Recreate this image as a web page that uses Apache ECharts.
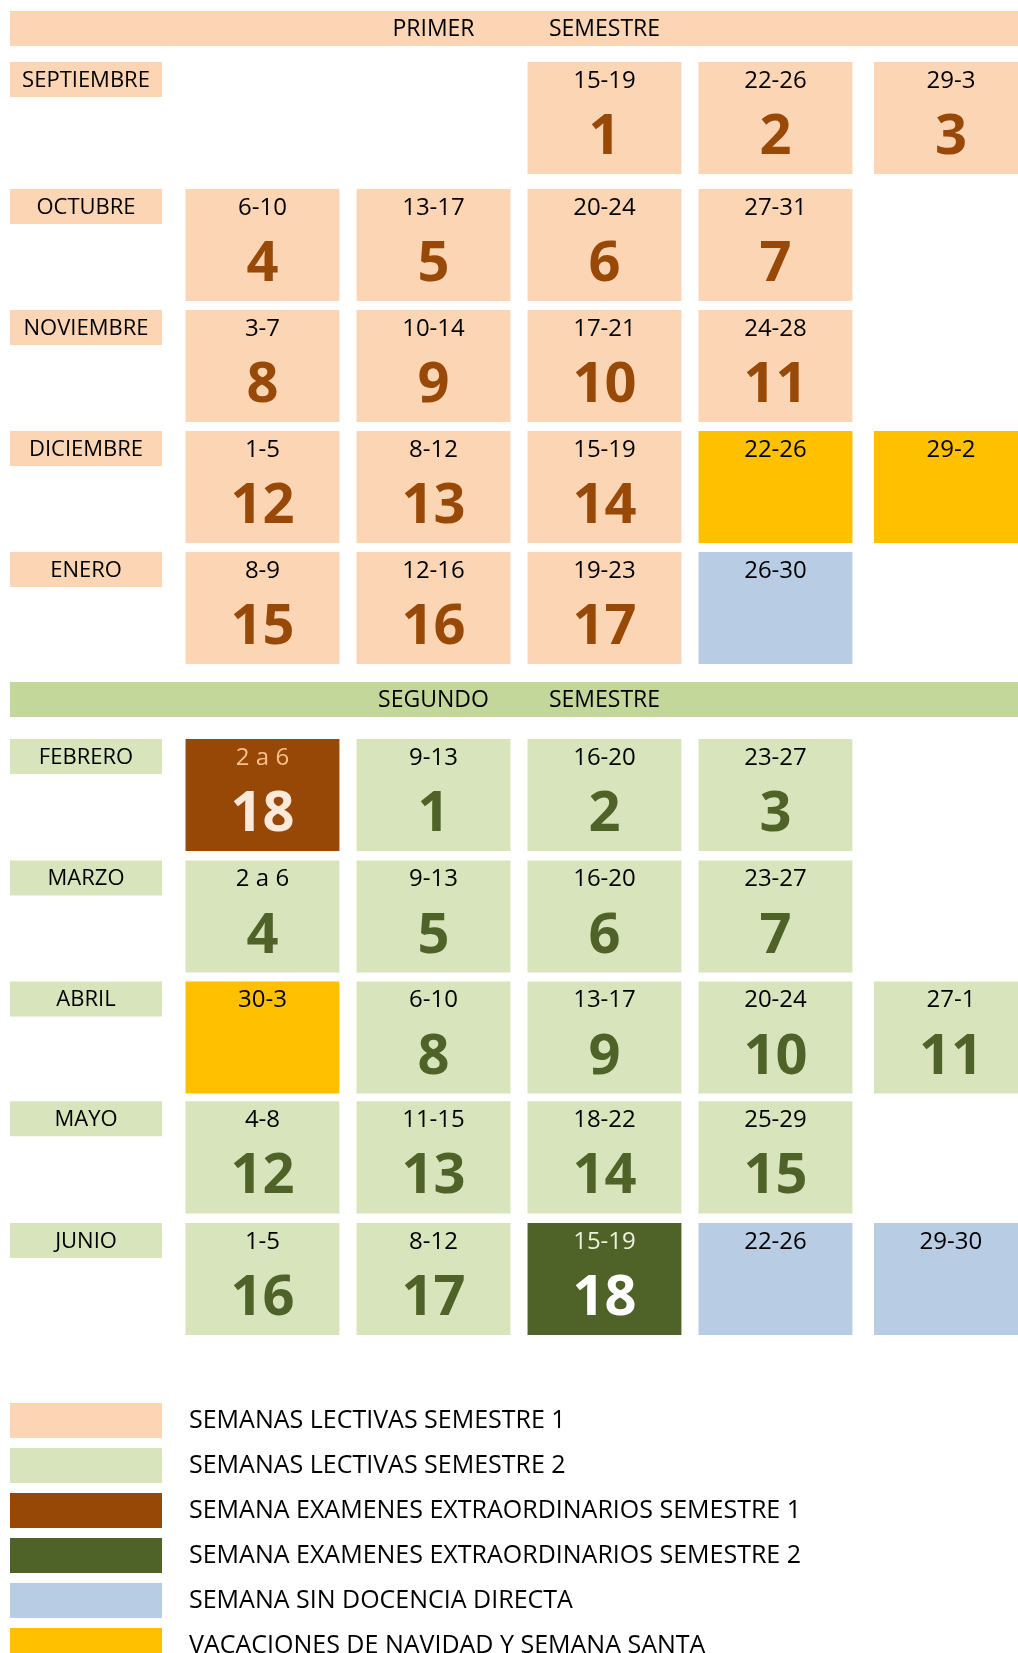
<!DOCTYPE html>
<html>
<head>
<meta charset="utf-8">
<script src="https://cdn.jsdelivr.net/npm/echarts@6/dist/echarts.min.js"></script>
<style>
  html, body { margin: 0; padding: 0; background: #ffffff; }
  #chart { width: 1018px; height: 1653px; }
</style>
</head>
<body>
<div id="chart"></div>
<script>
// ---------------- DATA ----------------
const months = ['SEPTIEMBRE', 'OCTUBRE', 'NOVIEMBRE', 'DICIEMBRE', 'ENERO',
                'FEBRERO', 'MARZO', 'ABRIL', 'MAYO', 'JUNIO'];
const monthSemester = [1, 1, 1, 1, 1, 2, 2, 2, 2, 2];

const semesterTitles = [['PRIMER', 'SEMESTRE'], ['SEGUNDO', 'SEMESTRE']];

// week date ranges per month, columns 1..5 ('' = empty slot)
const weekDates = [
  ['', '', '15-19', '22-26', '29-3'],
  ['6-10', '13-17', '20-24', '27-31', ''],
  ['3-7', '10-14', '17-21', '24-28', ''],
  ['1-5', '8-12', '15-19', '22-26', '29-2'],
  ['8-9', '12-16', '19-23', '26-30', ''],
  ['2 a 6', '9-13', '16-20', '23-27', ''],
  ['2 a 6', '9-13', '16-20', '23-27', ''],
  ['30-3', '6-10', '13-17', '20-24', '27-1'],
  ['4-8', '11-15', '18-22', '25-29', ''],
  ['1-5', '8-12', '15-19', '22-26', '29-30']
];

// week numbers (null = no number shown)
const weekNumbers = [
  [null, null, 1, 2, 3],
  [4, 5, 6, 7, null],
  [8, 9, 10, 11, null],
  [12, 13, 14, null, null],
  [15, 16, 17, null, null],
  [18, 1, 2, 3, null],
  [4, 5, 6, 7, null],
  [null, 8, 9, 10, 11],
  [12, 13, 14, 15, null],
  [16, 17, 18, null, null]
];

// week type: L1 lectiva S1, L2 lectiva S2, X1 examenes extra S1, X2 examenes extra S2,
// SD sin docencia directa, V vacaciones
const weekTypes = [
  [null, null, 'L1', 'L1', 'L1'],
  ['L1', 'L1', 'L1', 'L1', null],
  ['L1', 'L1', 'L1', 'L1', null],
  ['L1', 'L1', 'L1', 'V', 'V'],
  ['L1', 'L1', 'L1', 'SD', null],
  ['X1', 'L2', 'L2', 'L2', null],
  ['L2', 'L2', 'L2', 'L2', null],
  ['V', 'L2', 'L2', 'L2', 'L2'],
  ['L2', 'L2', 'L2', 'L2', null],
  ['L2', 'L2', 'X2', 'SD', 'SD']
];

const typeKeys = ['L1', 'L2', 'X1', 'X2', 'SD', 'V'];
const legendLabels = [
  'SEMANAS LECTIVAS SEMESTRE 1',
  'SEMANAS LECTIVAS SEMESTRE 2',
  'SEMANA EXAMENES EXTRAORDINARIOS SEMESTRE 1',
  'SEMANA EXAMENES EXTRAORDINARIOS SEMESTRE 2',
  'SEMANA SIN DOCENCIA DIRECTA',
  'VACACIONES DE NAVIDAD Y SEMANA SANTA'
];

// ---------------- STYLE / LAYOUT ----------------
const FONT = '"Open Sans", "Noto Sans", sans-serif';
const TYPE_STYLE = {
  L1: { fill: '#FCD5B4', date: '#000000', num: '#984807' },
  L2: { fill: '#D8E4BC', date: '#000000', num: '#4F6228' },
  X1: { fill: '#974706', date: '#FAC090', num: '#FDE9D9' },
  X2: { fill: '#4F6228', date: '#EBF1DE', num: '#FFFFFF' },
  SD: { fill: '#B8CCE4', date: '#000000', num: '#000000' },
  V:  { fill: '#FFC000', date: '#000000', num: '#000000' }
};
const SEM_FILL = { 1: '#FCD5B4', 2: '#D8E4BC' };
const SEM_HEADER_FILL = { 1: '#FCD5B4', 2: '#C4D79B' };

// axis-unit layout (x unit = one week column, y unit = one month row)
const COL_SLOT = [-0.032, 1, 2, 3, 4, 5.026];
const ROW_SLOT = [-0.05, 1, 2, 3, 4, 5.545, 6.55, 7.55, 8.54, 9.545];
const HEADER_SLOT = { 1: -0.471, 2: 5.074 };
const CELL_W = 0.9, CELL_H = 0.926, LABEL_W = 0.889, LABEL_H = 0.289, HEADER_H = 0.289;
const DATE_DY = 19, NUM_DY = 76;

function weekRender(typeKey) {
  const st = TYPE_STYLE[typeKey];
  return function (params, api) {
    const col = api.value(0), row = api.value(1);
    const tl = api.coord([COL_SLOT[col] - CELL_W / 2, ROW_SLOT[row]]);
    const sz = api.size([CELL_W, CELL_H]);
    const w = sz[0], h = sz[1];
    const date = weekDates[row][col - 1];
    const num = weekNumbers[row][col - 1];
    const children = [
      { type: 'rect', shape: { x: tl[0], y: tl[1], width: w, height: h }, style: { fill: st.fill } },
      { type: 'text', style: { text: date, x: tl[0] + w / 2, y: tl[1] + DATE_DY, align: 'center',
          verticalAlign: 'middle', font: '24px ' + FONT, fill: st.date } }
    ];
    if (num !== null) {
      children.push({ type: 'text', style: { text: String(num), x: tl[0] + w / 2, y: tl[1] + NUM_DY,
        align: 'center', verticalAlign: 'middle', font: 'bold 56px ' + FONT, fill: st.num } });
    }
    return { type: 'group', children: children };
  };
}

function monthRender(params, api) {
  const row = api.value(1);
  const sem = monthSemester[row];
  const tl = api.coord([COL_SLOT[0] - LABEL_W / 2, ROW_SLOT[row]]);
  const sz = api.size([LABEL_W, LABEL_H]);
  return {
    type: 'group',
    children: [
      { type: 'rect', shape: { x: tl[0], y: tl[1], width: sz[0], height: sz[1] }, style: { fill: SEM_FILL[sem] } },
      { type: 'text', style: { text: months[row], x: tl[0] + sz[0] / 2, y: tl[1] + sz[1] / 2 + 1,
          align: 'center', verticalAlign: 'middle', font: '22px ' + FONT, fill: '#000000' } }
    ]
  };
}

function headerRender(params, api) {
  const semIdx = api.value(0);
  const sem = semIdx + 1;
  const tl = api.coord([COL_SLOT[0] - LABEL_W / 2, HEADER_SLOT[sem]]);
  const br = api.coord([6, HEADER_SLOT[sem] + HEADER_H]);
  const c2 = api.coord([COL_SLOT[2], HEADER_SLOT[sem]]);
  const c3 = api.coord([COL_SLOT[3], HEADER_SLOT[sem]]);
  const h = br[1] - tl[1];
  const t = semesterTitles[semIdx];
  return {
    type: 'group',
    children: [
      { type: 'rect', shape: { x: tl[0], y: tl[1], width: br[0] - tl[0], height: h }, style: { fill: SEM_HEADER_FILL[sem] } },
      { type: 'text', style: { text: t[0], x: c2[0], y: tl[1] + h / 2 + 1, align: 'center', verticalAlign: 'middle',
          font: '23px ' + FONT, fill: '#000000' } },
      { type: 'text', style: { text: t[1], x: c3[0], y: tl[1] + h / 2 + 1, align: 'center', verticalAlign: 'middle',
          font: '23px ' + FONT, fill: '#000000' } }
    ]
  };
}

// ---------------- BUILD ----------------
const weekSeries = typeKeys.map(function (key, k) {
  const data = [];
  weekTypes.forEach(function (rowTypes, r) {
    rowTypes.forEach(function (t, c) {
      if (t === key) data.push([c + 1, r]);
    });
  });
  return {
    name: legendLabels[k],
    type: 'custom',
    renderItem: weekRender(key),
    itemStyle: { color: TYPE_STYLE[key].fill },
    data: data,
    animation: false,
    silent: true
  };
});

const chart = echarts.init(document.getElementById('chart'), null, { renderer: 'canvas' });
chart.setOption({
  backgroundColor: '#ffffff',
  animation: false,
  grid: { left: 0, right: 0, top: 0, bottom: 0, containLabel: false },
  xAxis: { type: 'value', min: -0.535, max: -0.535 + 1018 / 171, show: false },
  yAxis: { type: 'value', inverse: true, min: -0.562, max: -0.562 + 1653 / 121, show: false },
  legend: {
    orient: 'vertical', left: 10, top: 1403, height: 400, width: 900, padding: 0,
    itemWidth: 152, itemHeight: 35, itemGap: 10, icon: 'rect',
    selectedMode: false,
    textStyle: { fontFamily: FONT, fontSize: 25, color: '#000000', padding: [0, 0, 0, 22] },
    data: legendLabels
  },
  series: [
    { name: 'headers', type: 'custom', renderItem: headerRender, data: [[0], [1]], silent: true },
    { name: 'months', type: 'custom', renderItem: monthRender, data: months.map(function (m, i) { return [0, i]; }), silent: true }
  ].concat(weekSeries)
});
</script>
</body>
</html>
